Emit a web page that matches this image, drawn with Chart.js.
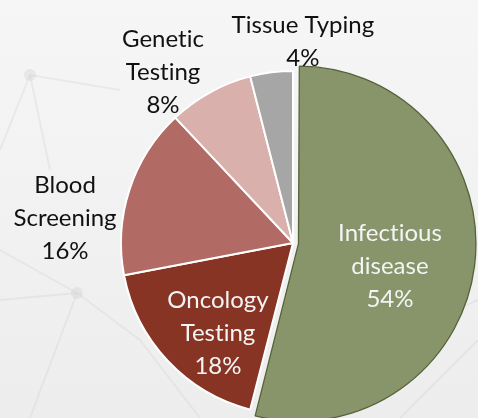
<!DOCTYPE html>
<html><head><meta charset="utf-8">
<script src="https://cdn.jsdelivr.net/npm/chart.js@4"></script>
<style>html,body{margin:0;padding:0;background:#f0f0f0;overflow:hidden}#wrap{width:478px;height:418px;position:relative}</style>
</head><body><div id="wrap"><canvas id="c"></canvas></div>
<script>
const categories = ['Infectious disease','Oncology Testing','Blood Screening','Genetic Testing','Tissue Typing'];
const shares = [54, 18, 16, 8, 4];
const labelLines = [['Infectious','disease'],['Oncology','Testing'],['Blood','Screening'],['Genetic','Testing'],['Tissue Typing']];
const sliceColors = ['#88946a','#883424','#b26a64','#d9b0ac','#a6a6a6'];
const sliceBorders = ['#56633a','#ffffff','#ffffff','#ffffff','#ffffff'];
const sliceBorderWidths = [1.3, 2, 2, 2, 2];
const sliceOffsets = [22, 0, 0, 0, 0];
const labelColors = ['#f4f4f4','#f4f4f4','#111111','#111111','#111111'];
// label placement: fraction of radius and angular nudge (deg)
const labelDist = [0.578, 0.677, 1.334, 1.253, 1.176];
const labelNudge = [5.6, -6.7, -11.5, -8.3, 10];

const bgPlugin = {
  id: 'bg',
  beforeDraw(chart) {
    const ctx = chart.ctx, w = chart.width, h = chart.height;
    ctx.save();
    const g = ctx.createLinearGradient(0, 0, 0, h);
    g.addColorStop(0, '#f6f6f6');
    g.addColorStop(1, '#ededed');
    ctx.fillStyle = g;
    ctx.fillRect(0, 0, w, h);
    ctx.strokeStyle = 'rgba(205,205,205,0.28)';
    ctx.lineWidth = 2;
    const segs = [[30,75,120,90],[30,75,0,150],[30,75,50,170],[0,300,77,293],[77,293,30,418],[77,293,140,340],[77,293,0,250],[140,340,200,418],[300,380,478,300],[400,418,478,340]];
    segs.forEach(s => { ctx.beginPath(); ctx.moveTo(s[0], s[1]); ctx.lineTo(s[2], s[3]); ctx.stroke(); });
    ctx.fillStyle = 'rgba(205,205,205,0.35)';
    [[30,75],[77,293]].forEach(p => { ctx.beginPath(); ctx.arc(p[0], p[1], 6, 0, Math.PI*2); ctx.fill(); });
    ctx.restore();
  }
};

const labelPlugin = {
  id: 'pieLabels',
  afterDatasetsDraw(chart) {
    const ctx = chart.ctx;
    const meta = chart.getDatasetMeta(0);
    ctx.save();
    ctx.font = '24px Lato';
    try { ctx.letterSpacing = '0.01px'; } catch (e) {}
    ctx.textAlign = 'center';
    ctx.textBaseline = 'alphabetic';
    const lh = 33, cap = 17;
    meta.data.forEach((el, i) => {
      const p = el.getProps(['x','y','startAngle','endAngle','outerRadius'], true);
      const mid = (p.startAngle + p.endAngle) / 2 + labelNudge[i] * Math.PI / 180;
      const d = p.outerRadius * labelDist[i];
      const cx = p.x + Math.cos(mid) * d;
      const cy = p.y + Math.sin(mid) * d;
      const lines = labelLines[i].concat([shares[i] + '%']);
      ctx.fillStyle = labelColors[i];
      lines.forEach((t, k) => {
        ctx.fillText(t, cx, cy + (k - (lines.length - 1) / 2) * lh + cap / 2);
      });
    });
    ctx.restore();
  }
};

new Chart(document.getElementById('c'), {
  type: 'pie',
  data: {
    labels: categories,
    datasets: [{
      data: shares,
      backgroundColor: sliceColors,
      borderColor: sliceBorders,
      borderWidth: sliceBorderWidths,
      offset: sliceOffsets,
      hoverOffset: 0,
      radius: 172
    }]
  },
  options: {
    responsive: true,
    maintainAspectRatio: false,
    animation: false,
    events: [],
    layout: { padding: { left: 108, right: 0, top: 68, bottom: 0 } },
    plugins: { legend: { display: false }, tooltip: { enabled: false } }
  },
  plugins: [bgPlugin, labelPlugin]
});
</script>
</body></html>
